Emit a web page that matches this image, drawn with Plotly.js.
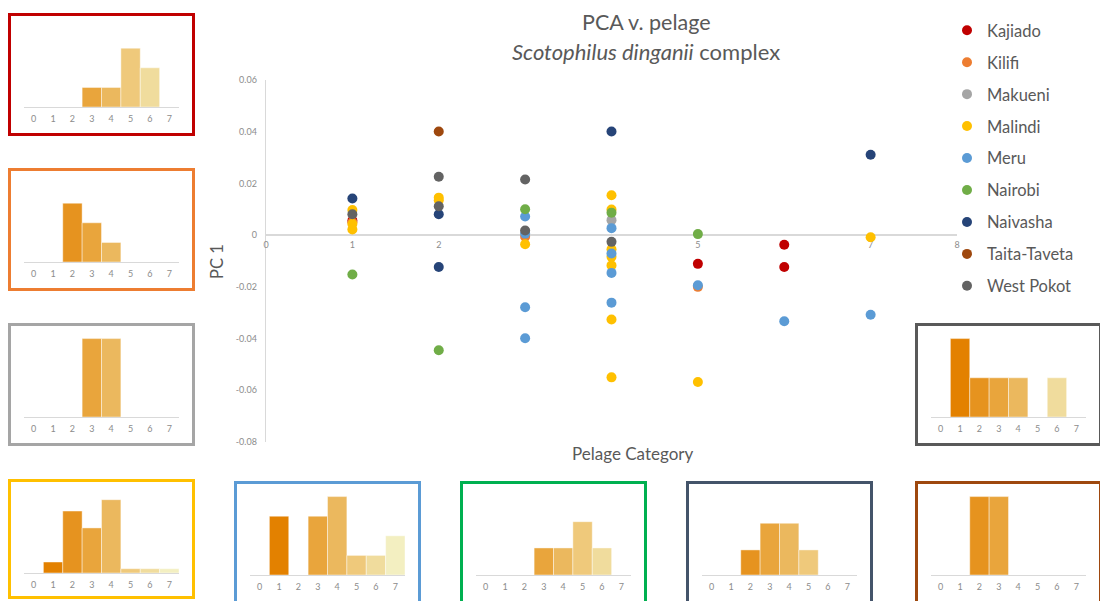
<!DOCTYPE html>
<html>
<head>
<meta charset="utf-8">
<script src="https://cdn.plot.ly/plotly-3.0.1.min.js"></script>
<style>
  html, body { margin: 0; padding: 0; background: #ffffff; }
  #chart { width: 1100px; height: 601px; }
</style>
</head>
<body>
<div id="chart"></div>
<script>
// ---- PCA scores (PC 1) by pelage category, per locality ----
const regions = ['Kajiado', 'Kilifi', 'Makueni', 'Malindi', 'Meru', 'Nairobi', 'Naivasha', 'Taita-Taveta', 'West Pokot'];

const kajiadoX = [1, 5, 6, 6];
const kajiadoY = [0.0056, -0.0111, -0.0037, -0.0123];

const kilifiX = [1, 3, 5];
const kilifiY = [0.0050, -0.0006, -0.0200];

const makueniX = [4];
const makueniY = [0.0058];

const malindiX = [1, 1, 1, 2, 2, 3, 4, 4, 4, 4, 4, 4, 4, 5, 7];
const malindiY = [0.0097, 0.0043, 0.0022, 0.0145, 0.0135, -0.0035, 0.0154, 0.0099, -0.0055, -0.0084, -0.0117, -0.0326, -0.0550, -0.0568, -0.0008];

const meruX = [3, 3, 3, 3, 4, 4, 4, 4, 5, 6, 7];
const meruY = [0.0072, 0.0006, -0.0279, -0.0399, 0.0027, -0.0071, -0.0146, -0.0261, -0.0194, -0.0333, -0.0308];

const nairobiX = [1, 2, 3, 4, 5];
const nairobiY = [-0.0152, -0.0445, 0.0100, 0.0087, 0.0004];

const naivashaX = [1, 2, 2, 4, 7];
const naivashaY = [0.0142, 0.0081, -0.0123, 0.0401, 0.0311];

const taitaX = [2];
const taitaY = [0.0401];

const westPokotX = [1, 2, 2, 3, 3, 4];
const westPokotY = [0.0081, 0.0226, 0.0112, 0.0215, 0.0018, -0.0026];

// ---- pelage category frequencies per locality (bar heights) ----
const pelageCategories = [0, 1, 2, 3, 4, 5, 6, 7];
const kajiadoBars   = [0, 0, 0, 1, 1, 3, 2, 0];
const kilifiBars    = [0, 0, 3, 2, 1, 0, 0, 0];
const makueniBars   = [0, 0, 0, 4, 4, 0, 0, 0];
const malindiBars   = [0, 0.56, 3.16, 2.3, 3.74, 0.22, 0.22, 0.22];
const meruBars      = [0, 3, 0, 3, 4, 1, 1, 2];
const nairobiBars   = [0, 0, 0, 1.38, 1.38, 2.72, 1.38, 0];
const naivashaBars  = [0, 0, 1.28, 2.64, 2.64, 1.28, 0, 0];
const taitaBars     = [0, 0, 4, 4, 0, 0, 0, 0];
const westPokotBars = [0, 4, 2, 2, 2, 0, 2, 0];

// axis tick labels
const pcTickVals = [-0.08, -0.06, -0.04, -0.02, 0, 0.02, 0.04, 0.06];
const pcTickText = ['-0.08', '-0.06', '-0.04', '-0.02', '0', '0.02', '0.04', '0.06'];
const pelageTicks = [0, 1, 2, 3, 4, 5, 6, 7, 8];

// ---- styling ----
const W = 1100, H = 601;
const FONT = 'Lato, "Open Sans", sans-serif';
const TEXT = '#595959';
const TICK = '#8c8c8c';
const LINE = '#d9d9d9';

const pointColors = {
  'Kajiado': '#c00000', 'Kilifi': '#ed7d31', 'Makueni': '#a5a5a5', 'Malindi': '#ffc000',
  'Meru': '#5b9bd5', 'Nairobi': '#70ad47', 'Naivasha': '#264478', 'Taita-Taveta': '#9e480e',
  'West Pokot': '#636363'
};
const shadeByCategory = ['#e07c00', '#e38100', '#e6931f', '#e9a53c', '#ebb85e', '#efc97b', '#f0dc9d', '#f3efc1'];

const px2x = v => v / W;
const px2y = v => 1 - v / H;

// main plot area (pixels)
const main = { left: 266, right: 957, top: 80, bottom: 442 };
const yRange = [-0.08, 0.06];
const yDomain = [px2y(main.bottom), px2y(main.top)];
const zeroPos = yDomain[0] + (0 - yRange[0]) / (yRange[1] - yRange[0]) * (yDomain[1] - yDomain[0]);

const series = [
  [kajiadoX, kajiadoY], [kilifiX, kilifiY], [makueniX, makueniY], [malindiX, malindiY],
  [meruX, meruY], [nairobiX, nairobiY], [naivashaX, naivashaY], [taitaX, taitaY], [westPokotX, westPokotY]
];

const traces = regions.map((name, i) => ({
  type: 'scatter', mode: 'markers', name: name,
  x: series[i][0], y: series[i][1],
  xaxis: 'x', yaxis: 'y',
  legendgroup: name,
  marker: { color: pointColors[name], size: 10 },
  hoverinfo: 'x+y+name'
}));

// inset histograms: box position (px) and frame colour
const insets = [
  { bars: kajiadoBars,   left: 8,   top: 13,  frame: '#c00000' },
  { bars: kilifiBars,    left: 8,   top: 168, frame: '#ed7d31' },
  { bars: makueniBars,   left: 8,   top: 323, frame: '#a5a5a5' },
  { bars: malindiBars,   left: 8,   top: 479, frame: '#ffc000', height: 120 },
  { bars: meruBars,      left: 234, top: 481, frame: '#5b9bd5' },
  { bars: nairobiBars,   left: 460, top: 481, frame: '#00b050' },
  { bars: naivashaBars,  left: 686, top: 481, frame: '#44546a' },
  { bars: westPokotBars, left: 915, top: 323, frame: '#595959' },
  { bars: taitaBars,     left: 915, top: 481, frame: '#9e480e' }
];
const BOX_W = 187, BOX_H = 123;
const UNIT_PX = 19.6, BAR_RANGE = 4.2;

const layout = {
  width: W, height: H,
  margin: { l: 0, r: 0, t: 0, b: 0, pad: 0 },
  paper_bgcolor: '#ffffff', plot_bgcolor: 'rgba(0,0,0,0)',
  font: { family: FONT, color: TEXT },
  showlegend: true,
  legend: {
    x: px2x(947), y: px2y(13), xanchor: 'left', yanchor: 'top',
    font: { family: FONT, size: 16.5, color: TEXT },
    tracegroupgap: 7.5, traceorder: 'grouped',
    bgcolor: 'rgba(0,0,0,0)', borderwidth: 0
  },
  xaxis: {
    domain: [px2x(main.left), px2x(main.right)], range: [0, 8],
    anchor: 'free', position: zeroPos, layer: 'below traces',
    showgrid: false, zeroline: false, showline: false, ticks: '',
    tickvals: pelageTicks, tickfont: { family: FONT, size: 9, color: TICK },
    ticklabelstandoff: 3
  },
  yaxis: {
    domain: yDomain, range: yRange, anchor: 'x', layer: 'below traces',
    showgrid: false, zeroline: true, zerolinecolor: LINE, zerolinewidth: 1.3,
    showline: true, linecolor: LINE, linewidth: 1.3, ticks: '',
    tickvals: pcTickVals, ticktext: pcTickText,
    tickfont: { family: FONT, size: 9, color: TICK }, ticklabelstandoff: 6
  },
  shapes: [],
  annotations: [
    { text: 'PCA v. pelage', x: px2x(646), y: px2y(22), xref: 'paper', yref: 'paper',
      showarrow: false, xanchor: 'center', yanchor: 'middle', font: { family: FONT, size: 21.5, color: TEXT } },
    { text: '<i>Scotophilus dinganii</i> complex', x: px2x(646), y: px2y(51), xref: 'paper', yref: 'paper',
      showarrow: false, xanchor: 'center', yanchor: 'middle', font: { family: FONT, size: 22, color: TEXT } },
    { text: 'PC 1', x: px2x(217), y: px2y(262), xref: 'paper', yref: 'paper', textangle: -90,
      showarrow: false, xanchor: 'center', yanchor: 'middle', font: { family: FONT, size: 16.5, color: TEXT } },
    { text: 'Pelage Category', x: px2x(632), y: px2y(453), xref: 'paper', yref: 'paper',
      showarrow: false, xanchor: 'center', yanchor: 'middle', font: { family: FONT, size: 17, color: TEXT } }
  ]
};

insets.forEach((ins, i) => {
  const k = i + 2;
  const xa = 'x' + k, ya = 'y' + k;
  const baseline = ins.top + 94;
  const plotTop = baseline - UNIT_PX * BAR_RANGE;
  traces.push({
    type: 'bar', x: pelageCategories, y: ins.bars,
    xaxis: xa, yaxis: ya, width: 1, showlegend: false, hoverinfo: 'x+y',
    marker: { color: shadeByCategory, line: { color: 'rgba(255,255,255,0.55)', width: 0.8 } }
  });
  layout['xaxis' + k] = {
    domain: [px2x(ins.left + 16), px2x(ins.left + 171)], range: [-0.5, 7.5], anchor: ya,
    showgrid: false, zeroline: false, showline: true, linecolor: LINE, linewidth: 1.2, ticks: '',
    tickvals: pelageCategories, tickfont: { family: FONT, size: 9, color: TICK },
    ticklabelstandoff: 3, fixedrange: true
  };
  layout['yaxis' + k] = {
    domain: [px2y(baseline), px2y(plotTop)], range: [0, BAR_RANGE], anchor: xa,
    visible: false, showgrid: false, zeroline: false, fixedrange: true
  };
  const bh = ins.height || BOX_H;
  layout.shapes.push({
    type: 'rect', xref: 'paper', yref: 'paper', layer: 'above',
    x0: px2x(ins.left + 1.5), x1: px2x(ins.left + BOX_W - 1.5),
    y0: px2y(ins.top + 1.5), y1: px2y(ins.top + bh - 1.5),
    line: { color: ins.frame, width: 3 }, fillcolor: 'rgba(0,0,0,0)'
  });
});

Plotly.newPlot('chart', traces, layout, { displayModeBar: false, staticPlot: true });
</script>
</body>
</html>
